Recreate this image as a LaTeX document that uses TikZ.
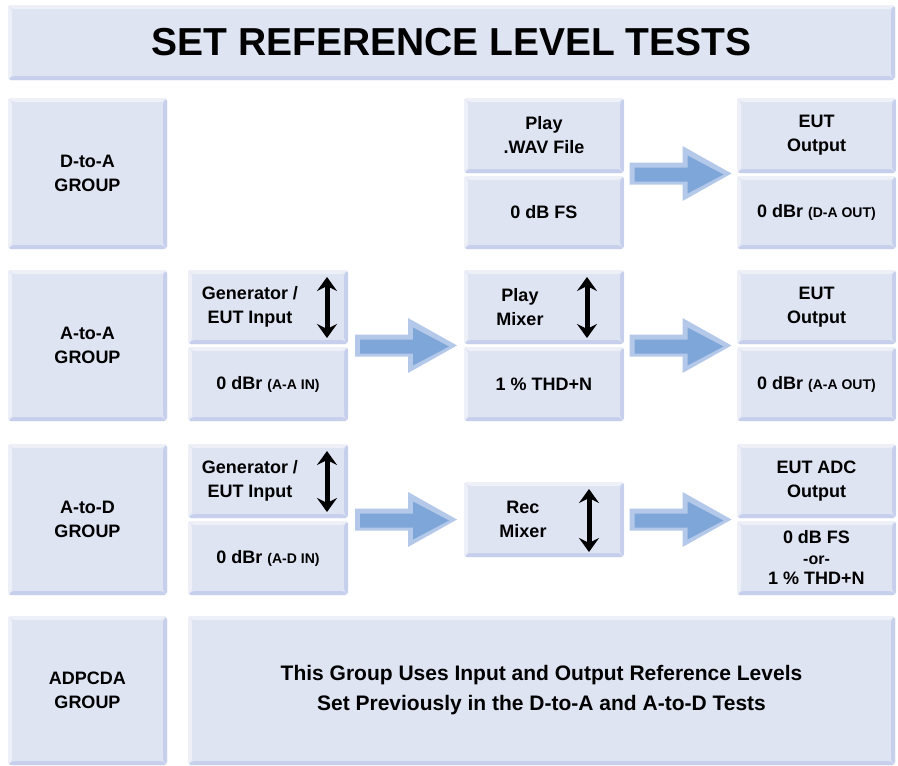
\documentclass[tikz,border=0pt]{standalone}
\usepackage{fontspec}
\setmainfont{Liberation Sans}
\usetikzlibrary{arrows.meta,calc}

\definecolor{boxface}{HTML}{DFE4F3}
\definecolor{boxlight}{HTML}{EEF0F8}
\definecolor{boxdark}{HTML}{C6D0EC}
\definecolor{arrface}{HTML}{7FA6D8}
\definecolor{arredge}{HTML}{B4C9EA}

\tikzset{
  bevelbox/.style={
    rounded corners=3pt, fill=boxface, inner sep=0pt, align=center,
    font=\fontsize{18}{24}\selectfont\bfseries,
    path picture={
      \fill[boxlight] (path picture bounding box.north west) -- (path picture bounding box.north east)
        -- ([shift={(-4pt,-4pt)}]path picture bounding box.north east)
        -- ([shift={(4pt,-4pt)}]path picture bounding box.north west) -- cycle;
      \fill[boxlight] (path picture bounding box.north west)
        -- ([shift={(4pt,-4pt)}]path picture bounding box.north west)
        -- ([shift={(4pt,4pt)}]path picture bounding box.south west)
        -- (path picture bounding box.south west) -- cycle;
      \fill[boxdark] (path picture bounding box.north east) -- (path picture bounding box.south east)
        -- ([shift={(-4pt,4pt)}]path picture bounding box.south east)
        -- ([shift={(-4pt,-4pt)}]path picture bounding box.north east) -- cycle;
      \fill[boxdark] (path picture bounding box.south west) -- (path picture bounding box.south east)
        -- ([shift={(-4pt,4pt)}]path picture bounding box.south east)
        -- ([shift={(4pt,4pt)}]path picture bounding box.south west) -- cycle;
    }},
  lbl/.style={inner sep=0pt, align=center, font=\fontsize{18}{24}\selectfont\bfseries},
  updown/.style={line width=5pt, {Stealth[length=14pt,width=20pt,inset=5pt]}-{Stealth[length=14pt,width=20pt,inset=5pt]}},
  blockarrow/.pic={
    \fill[arredge] (-51,-11) -- (2,-11) -- (2,-27.5) -- (51,0) -- (2,27.5) -- (2,11) -- (-51,11) -- cycle;
    \fill[arrface] (-46,-6) -- (7,-6) -- (7,-18) -- (43,1) -- (7,20) -- (7,8) -- (-46,8) -- cycle;
  }
}
\newcommand{\sm}[1]{{\fontsize{14}{16}\selectfont #1}}

\begin{document}
\begin{tikzpicture}[x=1pt,y=-1pt]
\fill[white] (0,0) rectangle (898,766);
\useasboundingbox (0,0) rectangle (898,766);

% title bar
\node[bevelbox, minimum width=887, minimum height=75, font=\fontsize{39}{45}\selectfont\bfseries]
  (title) at (451.5,42.5) {SET REFERENCE LEVEL TESTS};

% group labels
\node[bevelbox, minimum width=159, minimum height=151] (g1) at (87.5,173.5) {D-to-A\\GROUP};
\node[bevelbox, minimum width=159, minimum height=151] (g2) at (87.5,345.5) {A-to-A\\GROUP};
\node[bevelbox, minimum width=159, minimum height=151] (g3) at (87.5,519.5) {A-to-D\\GROUP};
\node[bevelbox, minimum width=159, minimum height=149] (g4) at (87.5,690.5) {ADPCDA\\GROUP};

% D-to-A row
\node[bevelbox, minimum width=160, minimum height=75] (p1t) at (544,135.5) {Play\\.WAV File};
\node[bevelbox, minimum width=160, minimum height=73] (p1b) at (544,212.5) {0 dB FS};
\node[bevelbox, minimum width=159, minimum height=75] (e1t) at (816.5,135.5) {EUT\\Output};
\node[bevelbox, minimum width=159, minimum height=73] (e1b) at (816.5,212.5) {0 dBr \sm{(D-A OUT)}};

% A-to-A row
\node[bevelbox, minimum width=160, minimum height=74] (gen2t) at (268,307) {};
\node[lbl] (gen2l) at ([xshift=-18pt]gen2t.center) {Generator /\\EUT Input};
\node[bevelbox, minimum width=160, minimum height=74] (gen2b) at (268,384) {0 dBr \sm{(A-A IN)}};
\node[bevelbox, minimum width=160, minimum height=74] (mix2t) at (544,307) {};
\node[lbl] (mix2l) at ([xshift=-24pt]mix2t.center) {Play\\Mixer};
\node[bevelbox, minimum width=160, minimum height=74] (mix2b) at (544,384) {1 \% THD+N};
\node[bevelbox, minimum width=159, minimum height=74] (e2t) at (816.5,307) {EUT\\Output};
\node[bevelbox, minimum width=159, minimum height=74] (e2b) at (816.5,384) {0 dBr \sm{(A-A OUT)}};

% A-to-D row
\node[bevelbox, minimum width=160, minimum height=74] (gen3t) at (268,481) {};
\node[lbl] (gen3l) at ([xshift=-18pt]gen3t.center) {Generator /\\EUT Input};
\node[bevelbox, minimum width=160, minimum height=74] (gen3b) at (268,558) {0 dBr \sm{(A-D IN)}};
\node[bevelbox, minimum width=160, minimum height=75] (rec) at (544,519.5) {};
\node[lbl] (recl) at ([xshift=-21pt]rec.center) {Rec\\Mixer};
\node[bevelbox, minimum width=159, minimum height=74] (e3t) at (816.5,481) {EUT ADC\\Output};
\node[bevelbox, minimum width=159, minimum height=74, font=\fontsize{18}{20.5}\selectfont\bfseries]
  (e3b) at (816.5,558) {0 dB FS\\{\fontsize{16}{20.5}\selectfont -or-}\\1 \% THD+N};

% ADPCDA row
\node[bevelbox, minimum width=707, minimum height=149, font=\fontsize{21}{30}\selectfont\bfseries]
  (note) at (541.5,690.5) {This Group Uses Input and Output Reference Levels\\Set Previously in the D-to-A and A-to-D Tests};

% level adjustment arrows
\draw[updown] ([xshift=59pt,yshift=30pt]gen2t.center) -- ([xshift=59pt,yshift=-31pt]gen2t.center);
\draw[updown] ([xshift=43pt,yshift=30pt]mix2t.center) -- ([xshift=43pt,yshift=-31pt]mix2t.center);
\draw[updown] ([xshift=59pt,yshift=30pt]gen3t.center) -- ([xshift=59pt,yshift=-31pt]gen3t.center);
\draw[updown] ([xshift=45pt,yshift=30.5pt]rec.center) -- ([xshift=45pt,yshift=-32.5pt]rec.center);

% signal flow arrows
\coordinate (a1x) at ($(p1t.east)!0.5!(e1t.west)$);
\coordinate (a2x) at ($(gen2t.east)!0.5!(mix2t.west)$);
\coordinate (a3x) at ($(mix2t.east)!0.5!(e2t.west)$);
\coordinate (a4x) at ($(gen3t.east)!0.5!(rec.west)$);
\coordinate (a5x) at ($(rec.east)!0.5!(e3t.west)$);
\pic at (a1x |- g1.center) {blockarrow};
\pic at (a2x |- g2.center) {blockarrow};
\pic at (a3x |- g2.center) {blockarrow};
\pic at (a4x |- g3.center) {blockarrow};
\pic at (a5x |- g3.center) {blockarrow};
\end{tikzpicture}
\end{document}
